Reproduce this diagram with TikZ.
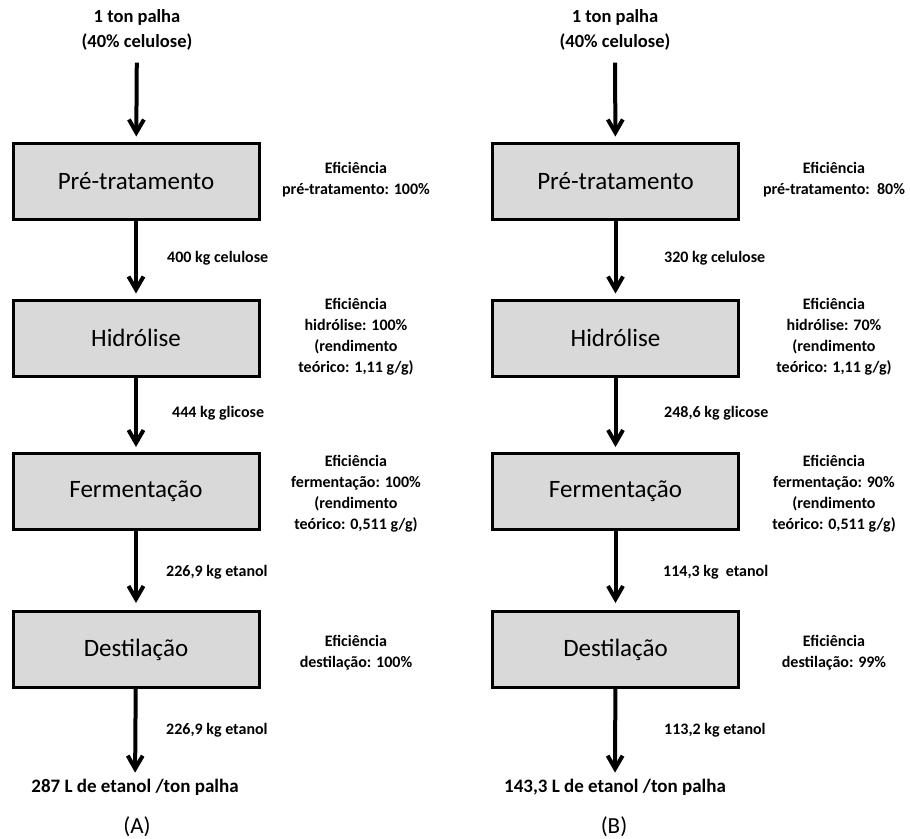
\documentclass[tikz,border=0pt]{standalone}
\usepackage{fontspec}
\setmainfont{Carlito}
\usetikzlibrary{arrows.meta}
\definecolor{boxgray}{RGB}{217,217,217}
\begin{document}
\begin{tikzpicture}[x=1pt,y=-1pt,
  proc/.style={draw=black, line width=3pt, fill=boxgray, minimum width=246pt, minimum height=76pt, inner sep=0pt, font=\fontsize{25}{29}\selectfont},
  arr/.style={line width=4pt, -{Straight Barb[length=13pt,width=15pt]}},
  eff/.style={font=\bfseries\fontsize{16}{21}\selectfont, align=center},
  flow/.style={font=\bfseries\fontsize{16}{19}\selectfont, anchor=west, inner sep=0pt},
  topt/.style={font=\bfseries\fontsize{18.5}{25}\selectfont, align=center, inner sep=0pt},
  bott/.style={font=\bfseries\fontsize{19}{22}\selectfont, inner sep=0pt},
  tag/.style={font=\fontsize{23}{26}\selectfont, inner sep=0pt}]
\useasboundingbox (0,0) rectangle (910,838);
% ---------- column A ----------
\node[topt] (atop) at (137,30) {1 ton palha\\(40\% celulose)};
\node[proc] (apre) at (136,181) {Pré-tratamento};
\node[proc] (ahid) at (136,338) {Hidrólise};
\node[proc] (afer) at (136,491.5) {Fermentação};
\node[proc] (ades) at (136,649.5) {Destilação};
\node[bott] (aend) at (135,787) {287 L de etanol /ton palha};
\node[tag] (alab) at (137,827) {(A)};
\node[eff] (aepre) at (356,180) {Eficiência\\pré-tratamento: 100\%};
\node[eff] (aehid) at (356,337) {Eficiência\\hidrólise: 100\%\\(rendimento\\teórico: 1,11 g/g)};
\node[eff] (aefer) at (356,494) {Eficiência\\fermentação: 100\%\\(rendimento\\teórico: 0,511 g/g)};
\node[eff] (aedes) at (356,652.5) {Eficiência\\destilação: 100\%};
\node[flow] (af1) at (167,258) {400 kg celulose};
\node[flow] (af2) at (172,413) {444 kg glicose};
\node[flow] (af3) at (166,572) {226,9 kg etanol};
\node[flow] (af4) at (166,730) {226,9 kg etanol};
\draw[arr, shorten <=12pt, shorten >=5pt] (atop) -- (apre);
\draw[arr, shorten >=5pt] (apre) -- (ahid);
\draw[arr, shorten >=5pt] (ahid) -- (afer);
\draw[arr, shorten >=7pt] (afer) -- (ades);
\draw[arr, shorten >=6pt] (ades) -- (aend);
% ---------- column B ----------
\node[topt] (btop) at (615,30) {1 ton palha\\(40\% celulose)};
\node[proc] (bpre) at (615.5,181) {Pré-tratamento};
\node[proc] (bhid) at (615.5,338) {Hidrólise};
\node[proc] (bfer) at (615.5,491.5) {Fermentação};
\node[proc] (bdes) at (615.5,649.5) {Destilação};
\node[bott] (bend) at (615,787) {143,3 L de etanol /ton palha};
\node[tag] (blab) at (614,827) {(B)};
\node[eff] (bepre) at (834,180) {Eficiência\\pré-tratamento:\ \ 80\%};
\node[eff] (behid) at (834,337) {Eficiência\\hidrólise: 70\%\\(rendimento\\teórico: 1,11 g/g)};
\node[eff] (befer) at (834,494) {Eficiência\\fermentação: 90\%\\(rendimento\\teórico: 0,511 g/g)};
\node[eff] (bedes) at (834,652.5) {Eficiência\\destilação: 99\%};
\node[flow] (bf1) at (664,258) {320 kg celulose};
\node[flow] (bf2) at (664,413) {248,6 kg glicose};
\node[flow] (bf3) at (663,572) {114,3 kg\ \ etanol};
\node[flow] (bf4) at (664,730) {113,2 kg etanol};
\draw[arr, shorten <=12pt, shorten >=5pt] (btop) -- (bpre);
\draw[arr, shorten >=5pt] (bpre) -- (bhid);
\draw[arr, shorten >=5pt] (bhid) -- (bfer);
\draw[arr, shorten >=7pt] (bfer) -- (bdes);
\draw[arr, shorten >=6pt] (bdes) -- (bend);
\end{tikzpicture}
\end{document}
